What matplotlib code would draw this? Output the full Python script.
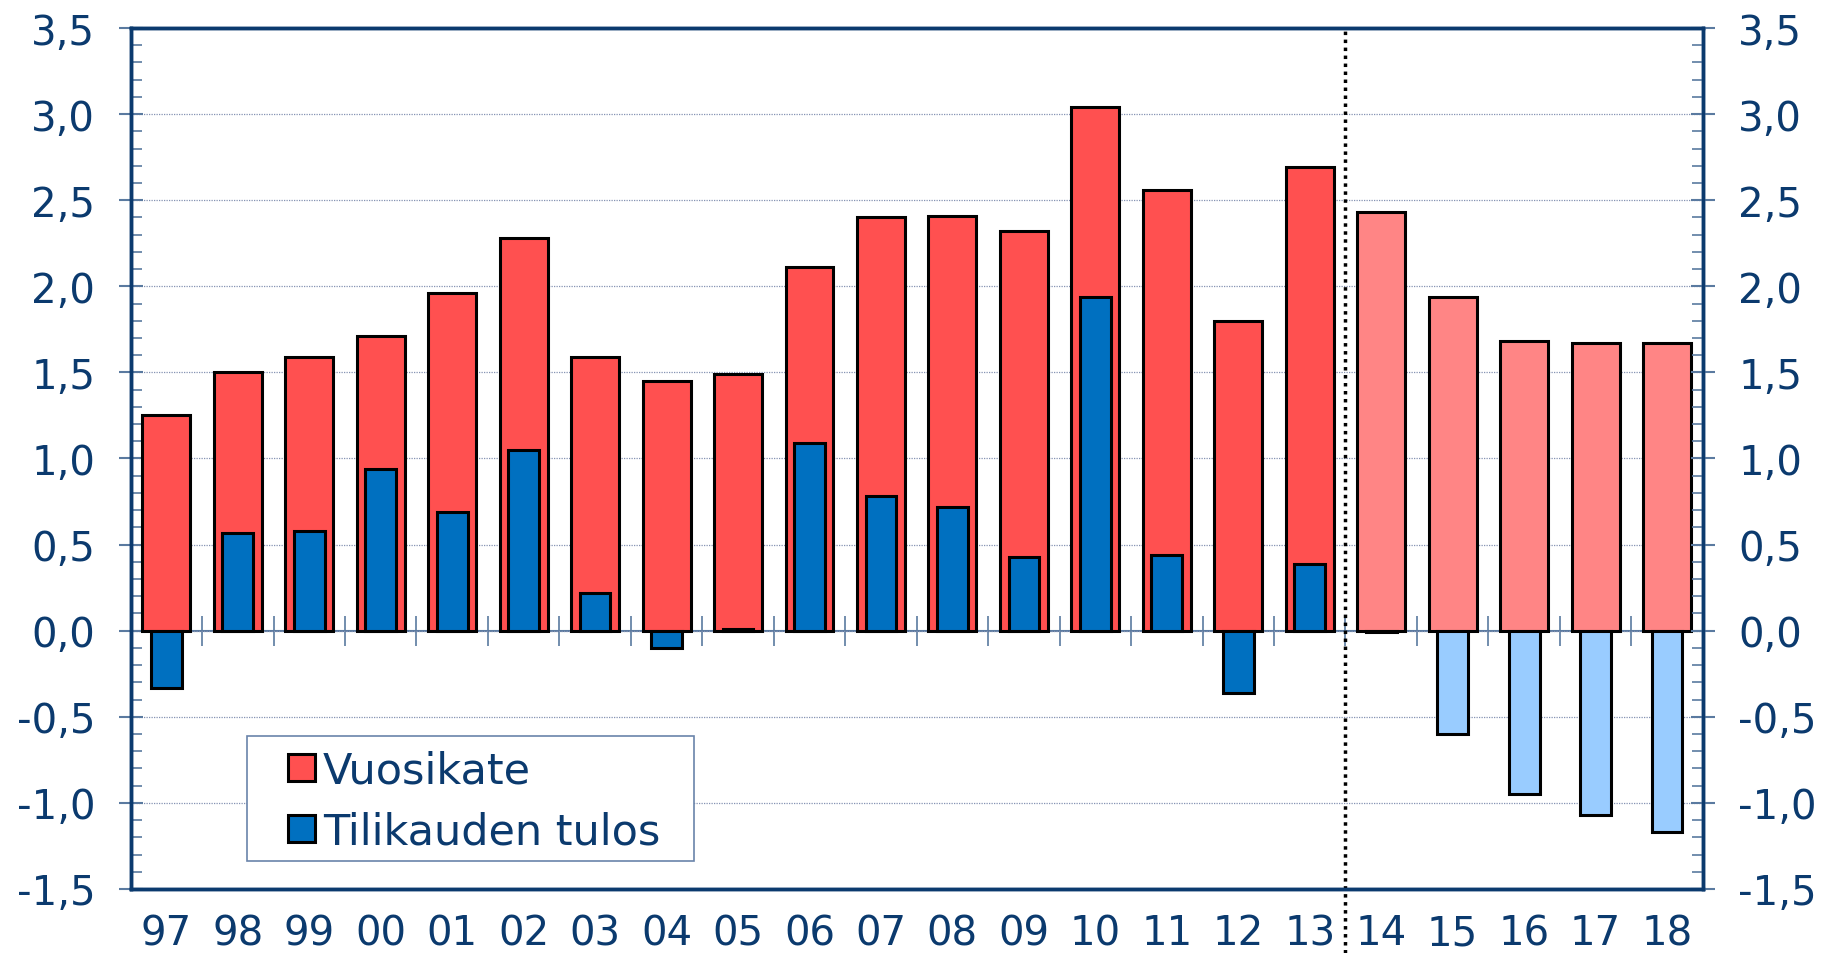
import matplotlib.pyplot as plt
import matplotlib.patches as mpatches
from matplotlib.legend_handler import HandlerPatch
from matplotlib.ticker import MultipleLocator, FuncFormatter
import numpy as np

years = ['97', '98', '99', '00', '01', '02', '03', '04', '05', '06', '07',
         '08', '09', '10', '11', '12', '13', '14', '15', '16', '17', '18']
vuosikate = [1.25, 1.50, 1.59, 1.71, 1.96, 2.28, 1.59, 1.45, 1.49, 2.11, 2.40,
             2.41, 2.32, 3.04, 2.56, 1.80, 2.69, 2.43, 1.94, 1.68, 1.67, 1.67]
tulos = [-0.33, 0.57, 0.58, 0.94, 0.69, 1.05, 0.22, -0.10, 0.01, 1.09, 0.78,
         0.72, 0.43, 1.94, 0.44, -0.36, 0.39, -0.01, -0.60, -0.95, -1.07, -1.17]
series_names = ['Vuosikate', 'Tilikauden tulos']
first_forecast = '14'

navy = '#0b3a6e'
tick_col = '#5a7aa0'
ymin, ymax = -1.5, 3.5
FS = 29

fig, ax = plt.subplots(figsize=(18.29, 9.54), dpi=100)
fig.subplots_adjust(left=0.0714, right=0.931, top=0.9696, bottom=0.0671)

x = np.arange(len(years))
fc = years.index(first_forecast)
red = ['#FF5050' if i < fc else '#FF8585' for i in x]
blue = ['#0070C0' if i < fc else '#99CCFF' for i in x]

ax.bar(x, vuosikate, 0.67, color=red, edgecolor='black', linewidth=2.2, zorder=3)
ax.bar(x, tulos, 0.43, color=blue, edgecolor='black', linewidth=2.2, zorder=4)

ax.set_xlim(-0.5, len(years) - 0.5)
ax.set_ylim(ymin, ymax)

fmt = FuncFormatter(lambda v, p: f'{v:.1f}'.replace('.', ','))


def style_y(a):
    a.yaxis.set_major_locator(MultipleLocator(0.5))
    a.yaxis.set_minor_locator(MultipleLocator(0.1))
    a.yaxis.set_major_formatter(fmt)
    a.tick_params(axis='y', which='major', direction='inout', length=17, width=1.5,
                  color=tick_col, labelsize=FS, labelcolor=navy, pad=17)
    a.tick_params(axis='y', which='minor', direction='in', length=8, width=1.2,
                  color=tick_col)
    for s in a.spines.values():
        s.set_color(navy)
        s.set_linewidth(2.5)


style_y(ax)
ax.yaxis.grid(True, which='major', color='#8593b3', linestyle=(0, (1, 1)), lw=0.9)
ax.set_axisbelow(True)

ax.set_xticks(x)
ax.set_xticklabels(years)
ax.tick_params(axis='x', length=0, pad=17.5, labelsize=FS, labelcolor=navy)

# right-hand axis with same scale
ax2 = ax.twinx()
ax2.set_ylim(ymin, ymax)
style_y(ax2)

# category axis crossing at zero
zero_ax = ax.secondary_xaxis((0 - ymin) / (ymax - ymin))
zero_ax.set_xticks(x[:-1] + 0.5)
zero_ax.set_xticklabels([])
zero_ax.tick_params(direction='inout', length=22, width=1.2, color=tick_col)
zero_ax.spines['bottom'].set_color(tick_col)
zero_ax.spines['bottom'].set_linewidth(1.5)

# forecast separator
ax.axvline(fc - 0.5, ymin=-0.074, ymax=1, color='black', linestyle=(0, (1, 1.3)),
           lw=2.5, clip_on=False, zorder=5)


# legend: small squares, frame drawn separately
def square(legend, orig_handle, xdescent, ydescent, width, height, fontsize):
    return mpatches.Rectangle((-xdescent, -ydescent), height, height)


handles = [mpatches.Patch(facecolor=red[0], edgecolor='black', lw=2.2),
           mpatches.Patch(facecolor=blue[0], edgecolor='black', lw=2.2)]
ax.legend(handles, series_names, loc='upper left', bbox_to_anchor=(0.1001, 0.1615),
          borderaxespad=0, borderpad=0, frameon=False, fontsize=31,
          labelcolor=navy, handlelength=0.58, handleheight=0.58,
          handletextpad=0.23, labelspacing=0.44,
          handler_map={mpatches.Patch: HandlerPatch(patch_func=square)})
ax.add_patch(mpatches.Rectangle((0.074, 0.0325), 0.2843, 0.1452, transform=ax.transAxes,
                                facecolor='white', edgecolor='#6a84aa', lw=1.2,
                                zorder=5))
ax.get_legend().set_zorder(6)

plt.savefig('out.png', dpi=100)
